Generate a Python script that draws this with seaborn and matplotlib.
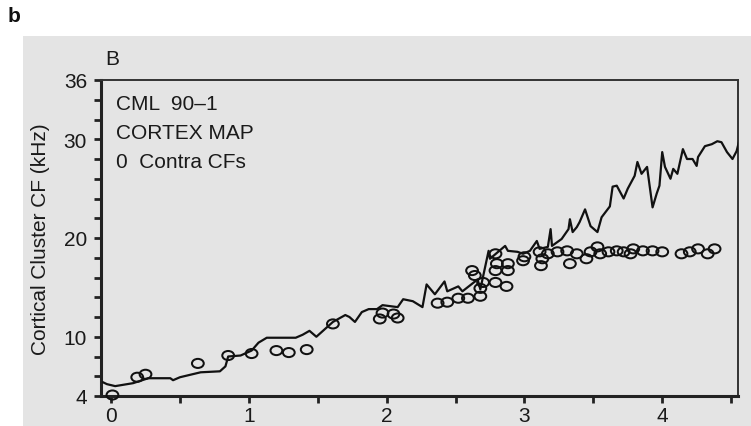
import numpy as np
import pandas as pd
import matplotlib
matplotlib.use("Agg")
import matplotlib.pyplot as plt
import seaborn as sns
from matplotlib.path import Path
from matplotlib.markers import MarkerStyle
from matplotlib.ticker import FixedLocator, MultipleLocator
from matplotlib.patches import Rectangle

# ---- data -------------------------------------------------------------
line_x = [-0.06, -0.03, 0.03, 0.16, 0.27, 0.43, 0.45, 0.50, 0.65, 0.79, 0.83, 0.85,
          0.94, 1.02, 1.07, 1.13, 1.34, 1.39, 1.44, 1.49, 1.57, 1.61, 1.70, 1.73,
          1.77, 1.82, 1.87, 1.93, 1.97, 2.08, 2.12, 2.19, 2.26, 2.29, 2.35, 2.42,
          2.44, 2.52, 2.55, 2.66, 2.68, 2.74, 2.75, 2.86, 2.88, 2.95, 2.99, 3.04,
          3.09, 3.11, 3.17, 3.19, 3.20, 3.24, 3.27, 3.32, 3.33, 3.35, 3.38, 3.40,
          3.44, 3.48, 3.53, 3.56, 3.62, 3.64, 3.67, 3.72, 3.75, 3.80, 3.82, 3.85,
          3.89, 3.93, 3.96, 3.98, 4.00, 4.02, 4.06, 4.08, 4.11, 4.15, 4.18, 4.22,
          4.25, 4.26, 4.31, 4.36, 4.40, 4.43, 4.47, 4.51, 4.54, 4.56]
line_y = [5.4, 5.2, 5.0, 5.3, 5.8, 5.8, 5.6, 5.9, 6.4, 6.5, 7.0, 8.0,
          8.1, 8.6, 9.4, 9.9, 9.9, 10.2, 10.6, 10.0, 11.0, 11.5, 12.2, 12.0,
          11.5, 12.5, 12.8, 12.8, 13.2, 13.0, 13.8, 13.6, 13.0, 15.3, 14.3, 15.6,
          14.6, 15.1, 14.6, 15.8, 14.8, 18.7, 17.9, 19.2, 18.7, 18.6, 18.4, 18.7,
          19.7, 18.9, 19.1, 20.9, 19.2, 19.6, 19.9, 20.9, 21.9, 20.6, 21.1, 21.6,
          22.9, 21.2, 20.6, 22.1, 23.2, 25.2, 25.3, 24.0, 25.0, 26.3, 27.7, 26.5,
          27.2, 23.1, 24.5, 25.3, 28.7, 27.2, 26.0, 27.0, 26.5, 29.0, 28.0, 28.0,
          27.3, 28.2, 29.3, 29.5, 29.8, 29.7, 28.7, 28.0, 28.8, 29.9]

cluster_x = [0.01, 0.19, 0.25, 0.63, 0.85, 1.02, 1.20, 1.29, 1.42, 1.61,
             1.95, 1.97, 2.05, 2.08, 2.37, 2.44, 2.52, 2.59, 2.68, 2.62,
             2.70, 2.68, 2.64, 2.79, 2.79, 2.80, 2.79, 2.87, 2.88, 2.88,
             2.99, 3.00, 3.11, 3.12, 3.13, 3.17, 3.24, 3.31, 3.33, 3.38,
             3.45, 3.48, 3.53, 3.55, 3.61, 3.67, 3.72, 3.77, 3.79, 3.86,
             3.93, 4.00, 4.14, 4.20, 4.26, 4.33, 4.38]
cluster_y = [4.1, 5.9, 6.2, 7.3, 8.1, 8.3, 8.6, 8.4, 8.7, 11.3,
             11.8, 12.4, 12.3, 11.9, 13.4, 13.5, 13.9, 13.9, 14.1, 16.7,
             15.5, 14.9, 16.2, 15.5, 18.4, 17.4, 16.7, 15.1, 16.7, 17.4,
             17.7, 18.1, 18.6, 17.2, 17.9, 18.4, 18.6, 18.7, 17.4, 18.4,
             17.9, 18.6, 19.1, 18.4, 18.6, 18.7, 18.6, 18.4, 18.9, 18.7,
             18.7, 18.6, 18.4, 18.6, 18.9, 18.4, 18.9]

y_major = [4, 10, 20, 30, 36]
x_major = [0, 1, 2, 3, 4]
info_lines = ["CML  90\u20131", "CORTEX MAP", "0  Contra CFs"]

# ---- style ------------------------------------------------------------
sns.set_theme(style="ticks")
plt.rcParams["font.family"] = ["Liberation Sans", "DejaVu Sans"]

fig = plt.figure(figsize=(7.51, 4.27), dpi=100)
fig.patch.set_facecolor("white")
bg = "#e4e4e4"
bgrect = Rectangle((23 / 751, 0), 1 - 23 / 751, 1 - 37 / 427,
                   transform=fig.transFigure, facecolor=bg,
                   edgecolor="none", zorder=-10)
fig.add_artist(bgrect)

ax = fig.add_axes([101 / 751, 1 - 397 / 427, (738 - 101) / 751, (397 - 81) / 427])
ax.set_zorder(1)
ax.set_facecolor(bg)

line_df = pd.DataFrame({"x": line_x, "y": line_y})
pts_df = pd.DataFrame({"x": cluster_x, "y": cluster_y})

sns.lineplot(data=line_df, x="x", y="y", sort=False, estimator=None,
             color="#111111", lw=1.6, ax=ax, zorder=3)

ell = Path.unit_circle().transformed(matplotlib.transforms.Affine2D().scale(1.3, 1.0))
sns.scatterplot(data=pts_df, x="x", y="y", marker=MarkerStyle(ell), s=72,
                facecolors="none", edgecolor="#111111", linewidth=1.45,
                ax=ax, zorder=4, clip_on=False)

ax.set_xlim(-0.073, 4.55)
ax.set_ylim(4, 36)
ax.yaxis.set_major_locator(FixedLocator(y_major))
ax.yaxis.set_minor_locator(MultipleLocator(2))
ax.xaxis.set_major_locator(FixedLocator(x_major))
ax.xaxis.set_minor_locator(MultipleLocator(0.5))

ax.tick_params(axis="both", which="both", direction="out", length=5,
               width=2, color="#222222", labelsize=15,
               labelcolor="#1a1a1a")
ax.tick_params(axis="y", which="both", pad=5)
ax.tick_params(axis="x", which="both", pad=2)
for side in ["left", "bottom"]:
    ax.spines[side].set_linewidth(2.2)
    ax.spines[side].set_color("#222222")
for side in ["top", "right"]:
    ax.spines[side].set_visible(True)
    ax.spines[side].set_linewidth(1.4)
    ax.spines[side].set_color("#333333")

ax.set_xlabel("")
ax.set_ylabel("Cortical Cluster CF (kHz)", fontsize=15, color="#1a1a1a",
              labelpad=10)

for i, t in enumerate(info_lines):
    ax.text(116, 427 - (105 + i * 29), t, transform=None, fontsize=15,
            color="#1a1a1a", va="center", ha="left")

fig.text(112 / 751, 1 - 60 / 427, "B", fontsize=15, color="#1a1a1a",
         ha="center", va="center")
fig.text(14 / 751, 1 - 16 / 427, "b", fontsize=15, fontweight="bold",
         color="#111111", ha="center", va="center")

fig.savefig("out.png", dpi=100)
